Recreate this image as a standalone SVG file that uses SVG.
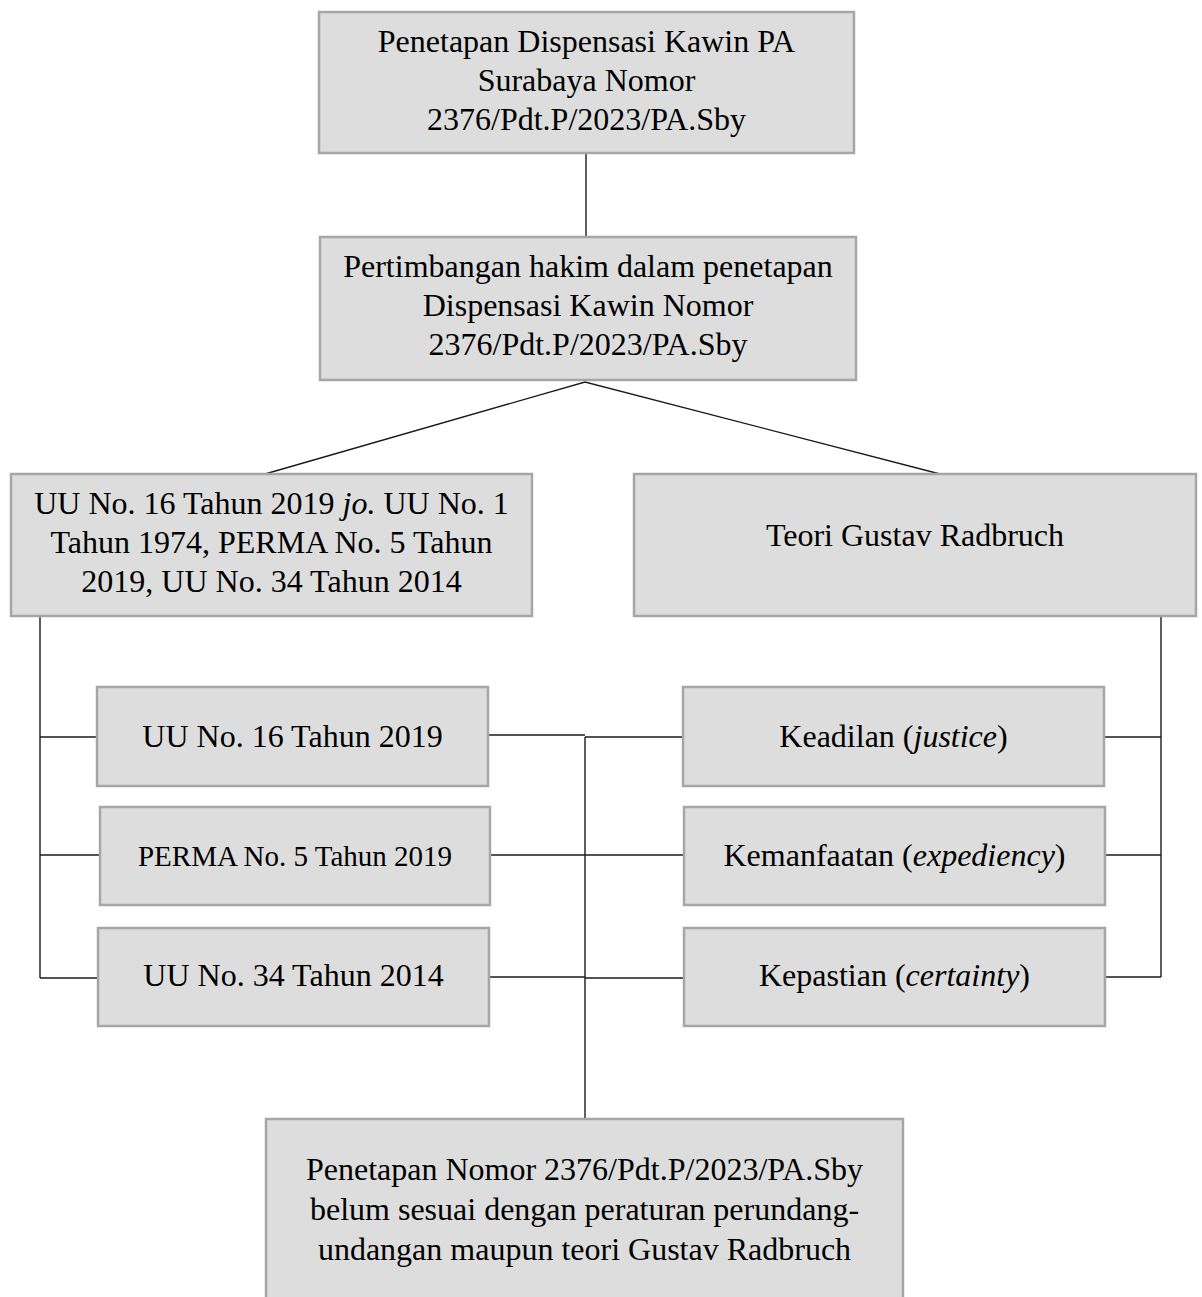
<svg xmlns="http://www.w3.org/2000/svg" width="1202" height="1297" viewBox="0 0 1202 1297">
<style>
.box{fill:#dddddd;stroke:#a6a6a6;stroke-width:2.5}
.t{font-family:"Liberation Serif","Times New Roman",serif;font-size:32px;fill:#000;text-anchor:middle}
.s{font-size:29px}
.i{font-style:italic}
.c{stroke:#1a1a1a;stroke-width:1.4;fill:none}
</style>
<rect width="1202" height="1297" fill="#fff"/>
<g id="connectors">
<line class="c" x1="586" y1="153" x2="586" y2="237"/>
<polyline class="c" points="265,474 585,382 940,474"/>
<polyline class="c" points="40,616 40,978"/>
<line class="c" x1="40" y1="737" x2="97" y2="737"/>
<line class="c" x1="40" y1="855" x2="100" y2="855"/>
<line class="c" x1="40" y1="978" x2="98" y2="978"/>
<polyline class="c" points="1161,616 1161,977"/>
<line class="c" x1="1104" y1="737" x2="1161" y2="737"/>
<line class="c" x1="1105" y1="855" x2="1161" y2="855"/>
<line class="c" x1="1105" y1="977" x2="1161" y2="977"/>
<line class="c" x1="488" y1="735" x2="585" y2="735"/>
<line class="c" x1="585" y1="737" x2="683" y2="737"/>
<line class="c" x1="490" y1="855" x2="684" y2="855"/>
<line class="c" x1="489" y1="977" x2="585" y2="977"/>
<line class="c" x1="585" y1="978" x2="684" y2="978"/>
<line class="c" x1="585" y1="737" x2="585" y2="1119"/>
</g>
<g id="n1">
<rect class="box" x="319" y="12" width="535" height="141"/>
<text class="t" x="586.5" y="52">Penetapan Dispensasi Kawin PA</text>
<text class="t" x="586.5" y="91">Surabaya Nomor</text>
<text class="t" x="586.5" y="130">2376/Pdt.P/2023/PA.Sby</text>
</g>
<g id="n2">
<rect class="box" x="320" y="237" width="536" height="143"/>
<text class="t" x="588" y="277">Pertimbangan hakim dalam penetapan</text>
<text class="t" x="588" y="316">Dispensasi Kawin Nomor</text>
<text class="t" x="588" y="355">2376/Pdt.P/2023/PA.Sby</text>
</g>
<g id="n3">
<rect class="box" x="11" y="474" width="521" height="142"/>
<text class="t" x="271.5" y="514">UU No. 16 Tahun 2019 <tspan class="i">jo.</tspan> UU No. 1</text>
<text class="t" x="271.5" y="553">Tahun 1974, PERMA No. 5 Tahun</text>
<text class="t" x="271.5" y="592">2019, UU No. 34 Tahun 2014</text>
</g>
<g id="n4">
<rect class="box" x="634" y="474" width="562" height="142"/>
<text class="t" x="915" y="546">Teori Gustav Radbruch</text>
</g>
<g id="n5">
<rect class="box" x="97" y="687" width="391" height="99"/>
<text class="t" x="292.5" y="747">UU No. 16 Tahun 2019</text>
</g>
<g id="n6">
<rect class="box" x="100" y="807" width="390" height="98"/>
<text class="t s" x="295" y="866">PERMA No. 5 Tahun 2019</text>
</g>
<g id="n7">
<rect class="box" x="98" y="928" width="391" height="98"/>
<text class="t" x="293.5" y="986">UU No. 34 Tahun 2014</text>
</g>
<g id="n8">
<rect class="box" x="683" y="687" width="421" height="99"/>
<text class="t" x="893.5" y="747">Keadilan (<tspan class="i">justice</tspan>)</text>
</g>
<g id="n9">
<rect class="box" x="684" y="807" width="421" height="98"/>
<text class="t" x="894.5" y="866">Kemanfaatan (<tspan class="i">expediency</tspan>)</text>
</g>
<g id="n10">
<rect class="box" x="684" y="928" width="421" height="98"/>
<text class="t" x="894.5" y="986">Kepastian (<tspan class="i">certainty</tspan>)</text>
</g>
<g id="n11">
<rect class="box" x="266" y="1119" width="637" height="190"/>
<text class="t" x="584.5" y="1180">Penetapan Nomor 2376/Pdt.P/2023/PA.Sby</text>
<text class="t" x="584.5" y="1220">belum sesuai dengan peraturan perundang-</text>
<text class="t" x="584.5" y="1260">undangan maupun teori Gustav Radbruch</text>
</g>
</svg>
